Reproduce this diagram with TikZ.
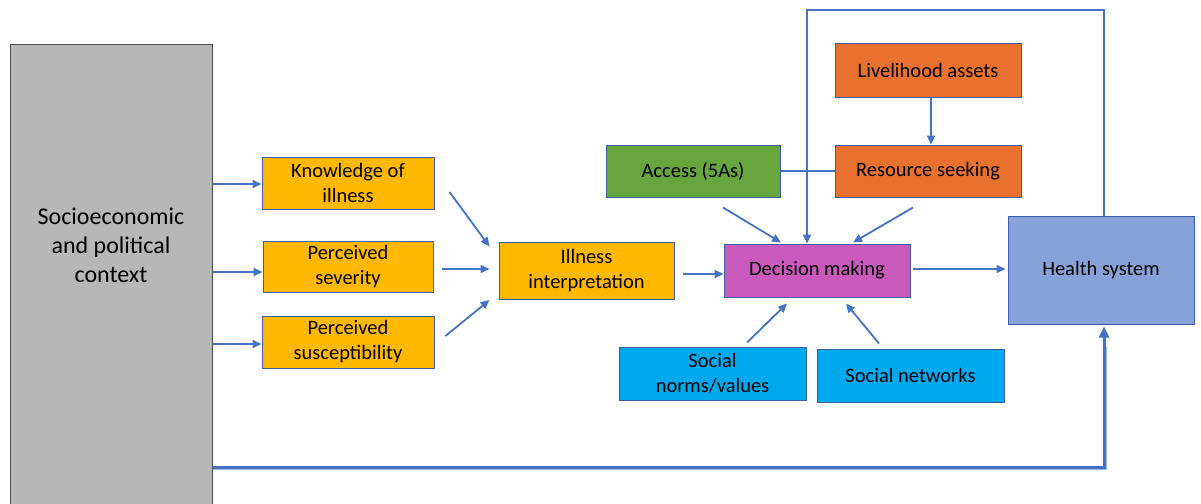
\documentclass[tikz,border=0pt]{standalone}
\usepackage{fontspec}
\setmainfont{Carlito}
\usetikzlibrary{arrows.meta,calc}
\definecolor{gold}{HTML}{FFB800}
\definecolor{leaf}{HTML}{67A53F}
\definecolor{rust}{HTML}{E9712F}
\definecolor{plum}{HTML}{C95ABC}
\definecolor{sky}{HTML}{00A8EE}
\definecolor{slate}{HTML}{87A2D8}
\definecolor{stone}{HTML}{B7B7B7}
\definecolor{boxline}{HTML}{3A5FA8}
\definecolor{linkblue}{HTML}{4472C4}
\definecolor{linkshade}{HTML}{9DB5E3}
\begin{document}
\begin{tikzpicture}[x=1pt,y=-1pt,
  box/.style={draw=boxline, line width=1pt, inner sep=0pt, align=center,
              font=\fontsize{20.5}{25}\selectfont},
  link/.style={draw=linkblue, line width=1.8pt},
  arr/.style={link, -{Triangle[length=9pt,width=8pt]}},
  bigarr/.style={draw=linkblue, line width=3pt, -{Triangle[length=11pt,width=10pt]}},
]
\useasboundingbox (0,0) rectangle (1201,503);

% context column on the left
\node[draw=black!70, line width=1pt, fill=stone, inner sep=0pt, anchor=north west,
      minimum width=202pt, minimum height=480pt] (se) at (10,44) {};
\node[align=center, font=\fontsize{24}{29}\selectfont] (setext) at (111,245)
  {Socioeconomic\\and political\\context};

% perception boxes
\node[box, fill=gold, minimum width=172pt, minimum height=52pt] (kn) at (348,183) {Knowledge of\\illness};
\node[box, fill=gold, minimum width=170pt, minimum height=51pt] (ps) at (348,266.5) {Perceived\\severity};
\node[box, fill=gold, minimum width=172pt, minimum height=52pt] (pu) at (348,342) {Perceived\\susceptibility};
\node[box, fill=gold, minimum width=175pt, minimum height=57pt] (ii) at (586.5,270.5) {Illness\\interpretation};

% decision and its influences
\node[box, fill=plum, minimum width=186pt, minimum height=53pt] (dm) at (817,270.5) {Decision making};
\node[box, fill=leaf, minimum width=174pt, minimum height=52pt] (ac) at (693,171) {Access (5As)};
\node[box, fill=rust, minimum width=186pt, minimum height=52pt] (rs) at (928,171) {Resource seeking};
\node[box, fill=rust, minimum width=186pt, minimum height=53pt] (la) at (928,70.5) {Livelihood assets};
\node[box, fill=sky, minimum width=187pt, minimum height=53pt] (sn) at (712.5,373.5) {Social\\norms/values};
\node[box, fill=sky, minimum width=187pt, minimum height=53pt] (sw) at (910.5,375.5) {Social networks};
\node[box, fill=slate, minimum width=186pt, minimum height=108pt] (hs) at (1101,270) {Health system};

% arrow ends next to the boxes
\coordinate (kW) at ($(kn.west)+(0,1)$);
\coordinate (pW) at ($(ps.west)+(0,5.5)$);
\coordinate (uW) at ($(pu.west)+(0,2)$);
\coordinate (kA) at ($(kn.east)+(15,9)$);
\coordinate (kB) at ($(ii.west)+(-9,-24)$);
\coordinate (pA) at ($(ps.east)+(8,2.5)$);
\coordinate (pB) at ($(ii.west)+(-9,-1.5)$);
\coordinate (uA) at ($(pu.east)+(11,-6)$);
\coordinate (uB) at ($(ii.west)+(-9,29.5)$);
\coordinate (iA) at ($(ii.east)+(8,3.5)$);
\coordinate (aA) at ($(ac.south)+(30,10)$);
\coordinate (aB) at ($(dm.north)+(-36,-1)$);
\coordinate (rA) at ($(rs.south)+(-15,10)$);
\coordinate (rB) at ($(dm.north)+(36,-1)$);
\coordinate (nA) at ($(sn.north)+(34.5,-4)$);
\coordinate (nB) at ($(dm.south)+(-30,6)$);
\coordinate (wA) at ($(sw.north)+(-31.5,-5)$);
\coordinate (wB) at ($(dm.south)+(29,6)$);
\coordinate (dA) at ($(dm.east)+(2,-1.5)$);
\coordinate (dB) at ($(hs.west)+(-2,-1)$);
\coordinate (lA) at ($(la.south)+(3,0)$);
\coordinate (lB) at ($(rs.north)+(3,0)$);
\coordinate (hTop) at ($(hs.north)+(3,0)$);
\coordinate (mTop) at ($(dm.north)+(-10,0)$);
\coordinate (sBot) at (se.east |- 0,467);
\coordinate (hBot) at ($(hs.south)+(3,2)$);

% arrows into the perception boxes
\draw[arr] (kW -| se.east) -- (kW);
\draw[arr] (pW -| se.east) -- (pW);
\draw[arr] (uW -| se.east) -- (uW);

% into illness interpretation
\draw[arr] (kA) -- (kB);
\draw[arr] (pA) -- (pB);
\draw[arr] (uA) -- (uB);
\draw[arr] (iA) -- (iA -| dm.west);

% into decision making
\draw[arr] (aA) -- (aB);
\draw[arr] (rA) -- (rB);
\draw[arr] (nA) -- (nB);
\draw[arr] (wA) -- (wB);
\draw[arr] (dA) -- (dB);
\draw[arr] (lA) -- (lB);
\draw[link] (ac.east) -- (rs.west);

% feedback loop from the health system
\draw[arr] (hTop) -- (hTop |- 0,10) -| (mTop);

% direct path from context to the health system
\draw[draw=linkshade, line width=1.5pt] ($(sBot)+(0,2.5)$) -| ($(hBot)+(2.5,20)$);
\draw[bigarr] (sBot) -| (hBot);
\end{tikzpicture}
\end{document}
